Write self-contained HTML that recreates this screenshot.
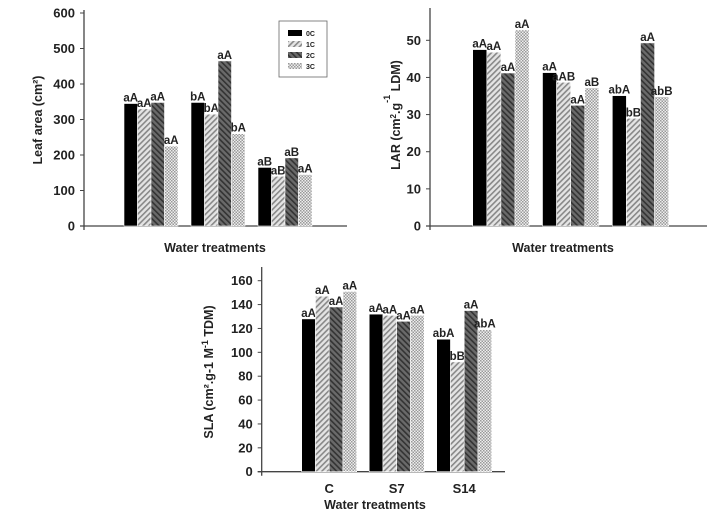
<!DOCTYPE html>
<html><head><meta charset="utf-8"><style>
body{margin:0;background:#fff;}
svg{display:block;font-family:"Liberation Sans",Arial,sans-serif;font-weight:bold;}
</style></head><body>
<svg id="c" width="711" height="520" viewBox="0 0 711 520" xmlns="http://www.w3.org/2000/svg">
<defs>
<pattern id="p1" width="4" height="4" patternUnits="userSpaceOnUse" patternTransform="rotate(45)"><rect width="4" height="4" fill="#e4e4e4"/><rect width="1.6" height="4" fill="#888"/></pattern>
<pattern id="p2" width="4" height="4" patternUnits="userSpaceOnUse" patternTransform="rotate(-45)"><rect width="4" height="4" fill="#6a6a6a"/><rect width="1.6" height="4" fill="#333"/></pattern>
<pattern id="p3" width="3" height="3" patternUnits="userSpaceOnUse"><rect width="3" height="3" fill="#eee"/><rect width="1.5" height="1.5" fill="#999"/><rect x="1.5" y="1.5" width="1.5" height="1.5" fill="#999"/></pattern>
</defs>
<g id="g1"></g>
<g id="g2"></g>
<g id="g3"></g>
</svg>
<script>
const series = ["0C","1C","2C","3C"];
const leafValues = [[345,330,348,225],[348,315,465,260],[165,140,192,145]];
const leafLabels = [["aA","aA","aA","aA"],["bA","bA","aA","bA"],["aB","aB","aB","aA"]];
const leafTicks = [0,100,200,300,400,500,600];
const larValues = [[47.5,46.8,41.2,52.8],[41.3,38.7,32.5,37.2],[35.1,29,49.3,34.8]];
const larLabels = [["aA","aA","aA","aA"],["aA","aAB","aA","aB"],["abA","bB","aA","abB"]];
const larTicks = [0,10,20,30,40,50];
const slaValues = [[128,147,138,151],[132,131,126,131],[111,92,135,119]];
const slaLabels = [["aA","aA","aA","aA"],["aA","aA","aA","aA"],["abA","bB","aA","abA"]];
const slaTicks = [0,20,40,60,80,100,120,140,160];
const slaCats = ["C","S7","S14"];
const fills = ["#000","url(#p1)","url(#p2)","url(#p3)"];
const NS="http://www.w3.org/2000/svg";
function mk(parent,tag,attrs,text){const e=document.createElementNS(NS,tag);for(const k in attrs)e.setAttribute(k,attrs[k]);if(text!==undefined)e.textContent=text;parent.appendChild(e);return e;}
function chart(g,cfg){
  const y=v=>cfg.y0-(v-cfg.vmin)*(cfg.y0-cfg.yTop)/(cfg.vmax-cfg.vmin);
  const ax=mk(g,'line',{x1:cfg.ax,y1:cfg.axTop,x2:cfg.ax,y2:cfg.y0+4,stroke:'#444','stroke-width':1.3});
  
  
  const bx=mk(g,'line',{x1:cfg.ax-4,y1:cfg.y0,x2:cfg.axEnd,y2:cfg.y0,stroke:'#444','stroke-width':1.3});
  
  
  cfg.ticks.forEach(t=>{
    const l=mk(g,'line',{x1:cfg.ax-4,y1:y(t),x2:cfg.ax,y2:y(t),stroke:'#444'});
    
    
    const tx=mk(g,'text',{x:cfg.ax-9,y:y(t)+4.5,'text-anchor':'end','font-size':13,fill:'#222'},t);
    
    
  });
  cfg.values.forEach((grp,gi)=>{
    grp.forEach((v,si)=>{
      const x=cfg.gx0+gi*cfg.gs+si*cfg.bw;
      const r=mk(g,'rect',{x:x,y:y(v),width:cfg.bw,height:cfg.y0-y(v),fill:fills[si],stroke:'#fff','stroke-width':0.6});
      
      
      const t=mk(g,'text',{x:x+cfg.bw/2,y:y(v)-2,'text-anchor':'middle','font-size':11.5,fill:'#222'},cfg.labels[gi][si]);
      
      
    });
    if(cfg.cats){
      const c=mk(g,'text',{x:cfg.gx0+gi*cfg.gs+2*cfg.bw,y:cfg.catY,'text-anchor':'middle','font-size':13,fill:'#222'},cfg.cats[gi]);
      
      
    }
  });
  const xt=mk(g,'text',{x:cfg.xtX,y:cfg.xtY,'text-anchor':'middle','font-size':12.5,fill:'#222'},'Water treatments');
  
  
  const yt=mk(g,'text',{x:0,y:0,'text-anchor':'middle','font-size':12.5,fill:'#222',transform:`translate(${cfg.ytX},${cfg.ytY}) rotate(-90)`});
  yt.innerHTML=cfg.ytHtml;
  
  
}
chart(document.getElementById('g1'),{ax:84,axTop:10,axEnd:347,y0:226,yTop:13,vmin:0,vmax:600,ticks:leafTicks,values:leafValues,labels:leafLabels,gx0:124,gs:67,bw:13.5,xtX:215,xtY:252,ytX:42,ytY:120,ytHtml:'Leaf area (cm²)'});
chart(document.getElementById('g2'),{ax:430,axTop:8,axEnd:707,y0:226,yTop:40.3,vmin:0,vmax:50,ticks:larTicks,values:larValues,labels:larLabels,gx0:472.7,gs:69.8,bw:14.1,xtX:563,xtY:252,ytX:400,ytY:115,ytHtml:'LAR (cm<tspan font-size="8" dy="-4">2</tspan><tspan dy="4">.g</tspan><tspan font-size="9" dy="-10">-1</tspan><tspan dy="10">  LDM)</tspan>'});
chart(document.getElementById('g3'),{ax:261.7,axTop:267,axEnd:505,y0:471.7,yTop:280.7,vmin:0,vmax:160,ticks:slaTicks,values:slaValues,labels:slaLabels,cats:slaCats,catY:493,gx0:301.7,gs:67.5,bw:13.75,xtX:375,xtY:509,ytX:213,ytY:372,ytHtml:'SLA (cm².g-1 M<tspan font-size="9" dy="-5">-1</tspan><tspan dy="5"> TDM)</tspan>'});
// legend
const svg=document.getElementById('c');
const lg=mk(svg,'g',{});


const lb=mk(lg,'rect',{x:279,y:21,width:48,height:56,fill:'#fff',stroke:'#666','stroke-width':0.8});


series.forEach((s,i)=>{
  const sw=mk(lg,'rect',{x:288,y:30+i*11,width:14,height:6,fill:fills[i]});
  
  
  const t=mk(lg,'text',{x:306,y:36+i*11,'font-size':7,fill:'#222'},s);
  
  
});
</script>
</body></html>
